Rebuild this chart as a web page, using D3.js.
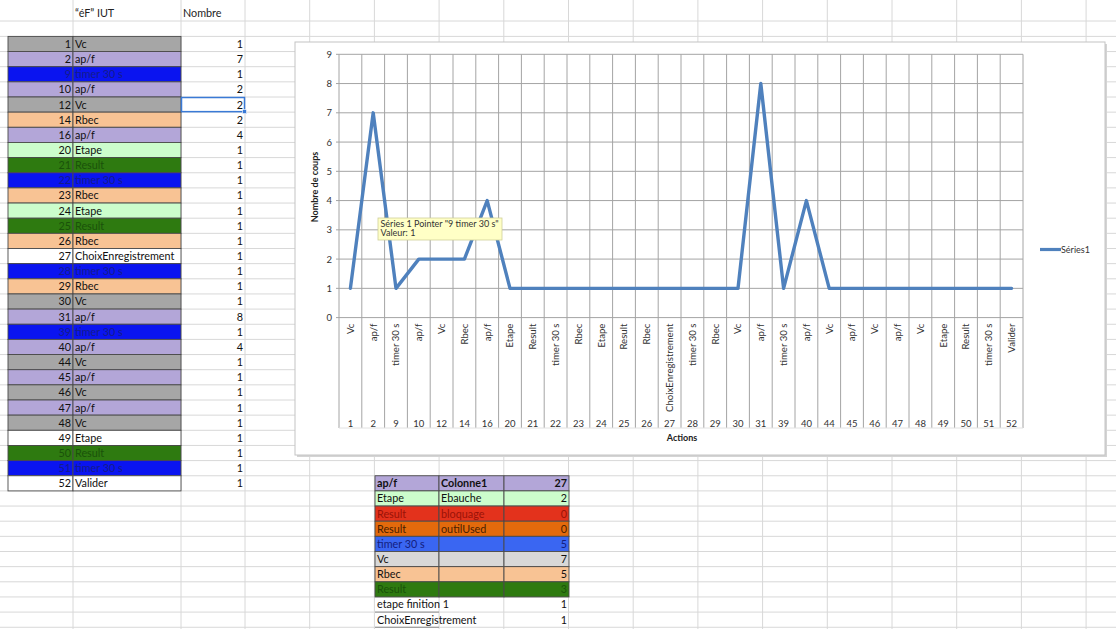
<!DOCTYPE html>
<html>
<head>
<meta charset="utf-8">
<script src="https://cdn.jsdelivr.net/npm/d3@7"></script>
<style>
  html, body { margin: 0; padding: 0; background: #fff; }
  svg { display: block; }
  text { font-family: Lato, "Open Sans", sans-serif; }
</style>
</head>
<body>
<svg id="c" width="1116" height="629"></svg>
<script>
// ---------------- DATA ----------------
const ids = [1,2,9,10,12,14,16,20,21,22,23,24,25,26,27,28,29,30,31,39,40,44,45,46,47,48,49,50,51,52];
const actions = ["Vc","ap/f","timer 30 s","ap/f","Vc","Rbec","ap/f","Etape","Result","timer 30 s","Rbec","Etape","Result","Rbec","ChoixEnregistrement","timer 30 s","Rbec","Vc","ap/f","timer 30 s","ap/f","Vc","ap/f","Vc","ap/f","Vc","Etape","Result","timer 30 s","Valider"];
const counts = [1,7,1,2,2,2,4,1,1,1,1,1,1,1,1,1,1,1,8,1,4,1,1,1,1,1,1,1,1,1];
const uncolouredIds = [27,49,52];
const yTicks = [0,1,2,3,4,5,6,7,8,9];

const sumLabels = ["ap/f","Etape","Result","Result","timer 30 s","Vc","Rbec","Result","etape finition 1","ChoixEnregistrement"];
const sumSub = ["Colonne1","Ebauche","bloquage","outilUsed","","","","","",""];
const sumValues = [27,2,0,0,5,7,5,3,1,1];
const sumKeys = ["apf","etape","bloq","outil","timer","vc","rbec","result","plain","plain"];

const headerLabels = ["\u201C\u00E9F\u201D IUT","Nombre"];
const seriesName = "S\u00E9ries1";
const tooltipLines = ["S\u00E9ries 1 Pointer \"9 timer 30 s\"","Valeur: 1"];

// ---------------- STYLES ----------------
const leftFill = {"Vc":"#a6a6a6","ap/f":"#b3a6d8","timer 30 s":"#0a14f0","Rbec":"#f8c394","Etape":"#ccfdcc","Result":"#2e7a10"};
const leftText = {"timer 30 s":"#141c8c","Result":"#1a520a"};
const sumFill = {apf:"#b3a6d8",etape:"#ccfdcc",bloq:"#e3321c",outil:"#e36a0c",timer:"#3a66f2",vc:"#d8d8d8",rbec:"#f8c394",result:"#2e7a10",plain:"#ffffff"};
const sumText = {bloq:"#9a1208",outil:"#4a2000",timer:"#14207e",result:"#1a520a"};
const FS = 10.8;

const svg = d3.select("#c");
svg.append("rect").attr("width",1116).attr("height",629).attr("fill","#fff");

// ---------------- SHEET GRID ----------------
const rowH = 15.15, row0 = 36.4;
const gridCols = [73,181].concat(d3.range(14).map(i => 245 + i*64.7));
const g0 = svg.append("g").attr("stroke","#d8d8d8").attr("stroke-width",1);
gridCols.forEach(x => g0.append("line").attr("x1",x).attr("x2",x).attr("y1",0).attr("y2",629));
g0.append("line").attr("x1",0).attr("x2",1116).attr("y1",21).attr("y2",21);
d3.range(40).forEach(k => g0.append("line").attr("x1",0).attr("x2",1116).attr("y1",row0+k*rowH).attr("y2",row0+k*rowH));

// header
svg.append("text").attr("x",75).attr("y",17).attr("font-size",FS).attr("fill","#222").text(headerLabels[0]);
svg.append("text").attr("x",183).attr("y",17).attr("font-size",FS).attr("fill","#222").text(headerLabels[1]);

// ---------------- LEFT TABLE ----------------
const lt = svg.append("g");
ids.forEach((id,i) => {
  const y = row0 + i*rowH;
  const a = actions[i];
  const plain = uncolouredIds.includes(id);
  const fill = plain ? "#fff" : leftFill[a];
  const tc = plain ? "#111" : (leftText[a] || "#111");
  lt.append("rect").attr("x",8).attr("y",y).attr("width",65).attr("height",rowH).attr("fill",fill).attr("stroke","#4a4a4a").attr("stroke-width",0.9);
  lt.append("rect").attr("x",73).attr("y",y).attr("width",108).attr("height",rowH).attr("fill",fill).attr("stroke","#4a4a4a").attr("stroke-width",0.9);
  lt.append("text").attr("x",71).attr("y",y+11.5).attr("text-anchor","end").attr("font-size",FS).attr("fill",tc).text(id);
  lt.append("text").attr("x",75).attr("y",y+11.5).attr("font-size",FS).attr("fill",tc).text(a);
  lt.append("text").attr("x",243).attr("y",y+11.5).attr("text-anchor","end").attr("font-size",FS).attr("fill","#111").text(counts[i]);
});
// selected cell
const selY = row0 + 4*rowH;
lt.append("rect").attr("x",181.5).attr("y",selY+0.5).attr("width",63).attr("height",rowH-1).attr("fill","none").attr("stroke","#3a7ad6").attr("stroke-width",1.5);
lt.append("rect").attr("x",242.5).attr("y",selY+rowH-2.5).attr("width",4).attr("height",4).attr("fill","#3a7ad6").attr("stroke","#fff").attr("stroke-width",0.6);

// ---------------- SUMMARY TABLE ----------------
const st = svg.append("g");
const sc = [375,439,504,569];
sumLabels.forEach((lab,j) => {
  const y = row0 + (29+j)*rowH;
  const k = sumKeys[j];
  const tc = sumText[k] || "#111";
  const bold = j === 0 ? "bold" : "normal";
  if (k !== "plain") {
    for (let c=0;c<3;c++) st.append("rect").attr("x",sc[c]).attr("y",y).attr("width",sc[c+1]-sc[c]).attr("height",rowH).attr("fill",sumFill[k]).attr("stroke","#4a4a4a").attr("stroke-width",0.9);
  } else {
    st.append("line").attr("x1",sc[0]).attr("x2",sc[1]).attr("y1",y+rowH).attr("y2",y+rowH).attr("stroke","#777").attr("stroke-width",0.8);
  }
  st.append("text").attr("x",sc[0]+2).attr("y",y+11.5).attr("font-size",FS).attr("font-weight",bold).attr("fill",tc).text(lab);
  if (sumSub[j]) st.append("text").attr("x",sc[1]+2).attr("y",y+11.5).attr("font-size",FS).attr("font-weight",bold).attr("fill",tc).text(sumSub[j]);
  st.append("text").attr("x",sc[3]-2).attr("y",y+11.5).attr("text-anchor","end").attr("font-size",FS).attr("font-weight",bold).attr("fill",tc).text(sumValues[j]);
});

// ---------------- CHART ----------------
const box = {x:295, y:42, w:810, h:413};
svg.append("rect").attr("x",box.x+2).attr("y",box.y+2).attr("width",box.w).attr("height",box.h).attr("fill","#d4d4d4");
svg.append("rect").attr("x",box.x).attr("y",box.y).attr("width",box.w).attr("height",box.h).attr("fill","#fff").attr("stroke","#c4c4c4").attr("stroke-width",1);

const plotL = 339, plotR = 1023, plotT = 54.3, plotB = 317.6, labBottom = 428;
const x = d3.scaleBand().domain(d3.range(ids.length)).range([plotL, plotR]).paddingInner(0).paddingOuter(0);
const y = d3.scaleLinear().domain([0,9]).range([plotB, plotT]);

const gc = svg.append("g");
gc.selectAll("line.h").data(yTicks).join("line")
  .attr("x1",plotL-3).attr("x2",plotR).attr("y1",d=>y(d)).attr("y2",d=>y(d))
  .attr("stroke","#a4a4a4").attr("stroke-width",1);
const bounds = d3.range(ids.length+1).map(i => plotL + i*x.step());
gc.selectAll("line.v").data(bounds).join("line")
  .attr("x1",d=>d).attr("x2",d=>d).attr("y1",plotT).attr("y2",labBottom)
  .attr("stroke","#a4a4a4").attr("stroke-width",1);
gc.append("line").attr("x1",plotL).attr("x2",plotR).attr("y1",labBottom).attr("y2",labBottom).attr("stroke","#e2e2e2");

// y axis labels
const yAxis = d3.axisLeft(y).tickValues(yTicks).tickSize(0).tickPadding(7);
const ya = svg.append("g").attr("transform",`translate(${plotL},0)`).call(yAxis);
ya.select(".domain").remove();
ya.selectAll("text").attr("font-size",9.5).attr("fill","#333").attr("font-family","Lato, sans-serif");

// x axis: rotated action labels
const xAxis = d3.axisBottom(x).tickSize(0).tickFormat(i => actions[i]);
const xa = svg.append("g").attr("transform",`translate(0,${plotB})`).call(xAxis);
xa.select(".domain").remove();
xa.selectAll(".tick text")
  .attr("font-size",9.6).attr("fill","#333").attr("font-family","Lato, sans-serif")
  .attr("text-anchor","end").attr("transform","translate(0,6) rotate(-90)")
  .attr("x",0).attr("y",0).attr("dy","0.35em");

// x axis: second level (ids)
const xAxis2 = d3.axisBottom(x).tickSize(0).tickFormat(i => ids[i]);
const xb = svg.append("g").attr("transform",`translate(0,${418})`).call(xAxis2);
xb.select(".domain").remove();
xb.selectAll(".tick text").attr("font-size",9.5).attr("fill","#333").attr("font-family","Lato, sans-serif").attr("dy","0.35em").attr("y",6);

// axis titles
svg.append("text").attr("x",682).attr("y",441).attr("text-anchor","middle").attr("font-size",9).attr("font-weight","bold").attr("fill","#222").text("Actions");
svg.append("text").attr("transform","translate(318,187) rotate(-90)").attr("text-anchor","middle").attr("font-size",9).attr("font-weight","bold").attr("fill","#222").text("Nombre de coups");

// line
const line = d3.line().x((d,i) => x(i) + x.bandwidth()/2).y(d => y(d));
svg.append("path").datum(counts).attr("d",line).attr("fill","none")
  .attr("stroke","#4f81bd").attr("stroke-width",3.4).attr("stroke-linejoin","round").attr("stroke-linecap","round");

// legend
svg.append("line").attr("x1",1040).attr("x2",1061).attr("y1",249.5).attr("y2",249.5).attr("stroke","#4f81bd").attr("stroke-width",3.2);
svg.append("text").attr("x",1061).attr("y",249.5).attr("dy","0.35em").attr("font-size",9).attr("fill","#333").text(seriesName);

// tooltip
const tt = svg.append("g");
tt.append("rect").attr("x",378).attr("y",218).attr("width",124).attr("height",22).attr("fill","#ffffc6").attr("stroke","#cfcf9a").attr("stroke-width",0.8);
tooltipLines.forEach((t,i) => tt.append("text").attr("x",380.5).attr("y",226.5+i*9.5).attr("font-size",9).attr("fill","#333").text(t));
</script>
</body>
</html>
